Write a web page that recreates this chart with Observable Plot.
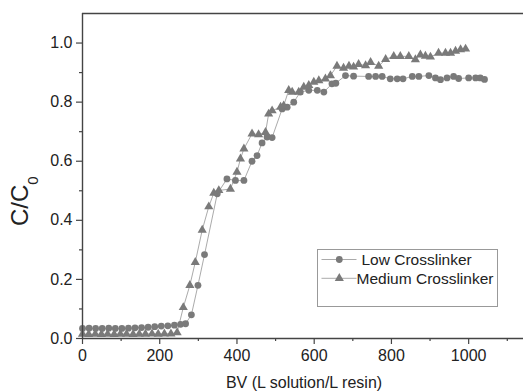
<!DOCTYPE html>
<html><head><meta charset="utf-8">
<script src="https://cdn.jsdelivr.net/npm/d3@7"></script>
<script src="https://cdn.jsdelivr.net/npm/@observablehq/plot@0.6"></script>
<style>
body{margin:0;background:#fff;}
#chart{width:523px;height:391px;}
</style></head><body><div id="chart"></div>
<script>
const lowBV=[0,17,34,51,68,85,102,119,136,153,170,187,204,221,238,254,267,282,299,316,349,374,396,418,439,452,465,478,491,517,530,547,564,586,608,625,646,656,681,702,741,759,776,797,815,830,854,871,897,914,927,944,961,974,1000,1018,1030,1041];
const lowC=[0.034,0.035,0.034,0.034,0.035,0.034,0.034,0.035,0.036,0.037,0.038,0.040,0.042,0.043,0.045,0.048,0.050,0.080,0.180,0.284,0.490,0.540,0.535,0.535,0.600,0.619,0.662,0.682,0.680,0.777,0.783,0.800,0.834,0.840,0.840,0.834,0.862,0.864,0.890,0.888,0.887,0.887,0.887,0.879,0.879,0.879,0.887,0.887,0.890,0.882,0.876,0.882,0.887,0.880,0.882,0.882,0.882,0.877];
const medBV=[0,16,33,49,65,82,98,114,131,147,163,180,196,212,229,245,261,278,292,310,327,340,353,383,400,409,418,439,456,474,482,491,513,521,534,543,560,573,586,599,612,629,642,659,676,690,702,715,733,746,767,785,806,823,845,862,875,888,901,922,940,953,966,979,992];
const medC=[0.015,0.014,0.015,0.014,0.015,0.014,0.015,0.015,0.014,0.015,0.015,0.016,0.015,0.016,0.016,0.020,0.105,0.180,0.258,0.367,0.446,0.492,0.501,0.506,0.563,0.608,0.642,0.693,0.690,0.698,0.760,0.771,0.783,0.788,0.840,0.834,0.834,0.851,0.857,0.868,0.873,0.879,0.890,0.922,0.915,0.922,0.919,0.928,0.924,0.935,0.922,0.945,0.955,0.955,0.955,0.944,0.960,0.956,0.953,0.966,0.966,0.966,0.973,0.978,0.980];
const seriesNames=["Low Crosslinker","Medium Crosslinker"];
const xMajorTicks=[0,200,400,600,800,1000];
const xMinorTicks=[100,300,500,700,900,1100];
const yMajorTicks=[0,0.2,0.4,0.6,0.8,1.0];
const yMinorTicks=[0.1,0.3,0.5,0.7,0.9];
const xTitle="BV (L solution/L resin)";
const yTitleMain="C/C", yTitleSub="0";

const low=lowBV.map((x,i)=>({x,y:lowC[i]}));
const med=medBV.map((x,i)=>({x,y:medC[i]}));

const font='"Liberation Sans", Arial, Helvetica, sans-serif';
const axisColor="#444";
const lineColor="#a0a0a0";
const markColor="#7a7a7a";

const plot=Plot.plot({
  width:523,height:391,marginLeft:82,marginRight:0,marginTop:13,marginBottom:53,
  style:{fontFamily:font,fontSize:"16px",color:"#222",background:"#fff"},
  x:{domain:[0,1142]},
  y:{domain:[0,1.1]},
  marks:[
    Plot.line(low,{x:"x",y:"y",stroke:lineColor,strokeWidth:0.9}),
    Plot.line(med,{x:"x",y:"y",stroke:lineColor,strokeWidth:0.9}),
    Plot.dot(low,{x:"x",y:"y",r:3.4,fill:markColor,symbol:"circle"}),
    Plot.dot(med,{x:"x",y:"y",r:3.4,fill:markColor,symbol:"triangle"}),
    Plot.axisX({ticks:xMajorTicks,tickSize:6,tickPadding:5,stroke:axisColor,strokeWidth:1.2,label:null,tickFormat:d=>String(d)}),
    Plot.axisX({ticks:xMinorTicks,tickSize:3,text:null,label:null,stroke:axisColor,strokeWidth:1.2}),
    Plot.axisY({ticks:yMajorTicks,tickSize:6,tickPadding:4,stroke:axisColor,strokeWidth:1.2,label:null,tickFormat:d3.format(".1f")}),
    Plot.axisY({ticks:yMinorTicks,tickSize:3,text:null,label:null,stroke:axisColor,strokeWidth:1.2}),
    Plot.ruleX([0],{stroke:axisColor,strokeWidth:1.4}),
    Plot.ruleY([0,1.1],{stroke:axisColor,strokeWidth:1.4})
  ]
});
document.getElementById("chart").appendChild(plot);
const svg=d3.select(plot);

// x title
svg.append("text").attr("x",304).attr("y",388).attr("text-anchor","middle")
  .attr("font-family",font).attr("font-size",16).attr("fill","#222").text(xTitle);
// y title
const yt=svg.append("text").attr("transform","translate(28,226) rotate(-90)")
  .attr("text-anchor","start")
  .attr("font-family",font).attr("font-size",24).attr("fill","#222");
yt.append("tspan").text(yTitleMain);
yt.append("tspan").attr("font-size",15).attr("dy",10).text(yTitleSub);

// legend
const lg=svg.append("g").attr("text-anchor","start");
lg.append("rect").attr("x",317.5).attr("y",249.5).attr("width",180).attr("height",57)
  .attr("fill","#fff").attr("stroke","#999").attr("stroke-width",1);
const rows=[{y:259.5,sym:d3.symbolCircle,tx:361.5},{y:278.3,sym:d3.symbolTriangle,tx:356.5}];
rows.forEach((r,i)=>{
  lg.append("line").attr("x1",321.5).attr("x2",356.5).attr("y1",r.y).attr("y2",r.y)
    .attr("stroke",lineColor).attr("stroke-width",0.9);
  lg.append("path").attr("d",d3.symbol(r.sym,Math.PI*3.4*3.4)())
    .attr("transform",`translate(339.3,${r.y})`).attr("fill",markColor);
  lg.append("text").attr("x",r.tx).attr("y",r.y+5.5).attr("text-anchor","start").attr("font-family",font)
    .attr("font-size",15.5).attr("fill","#222").text(seriesNames[i]);
});
</script></body></html>
